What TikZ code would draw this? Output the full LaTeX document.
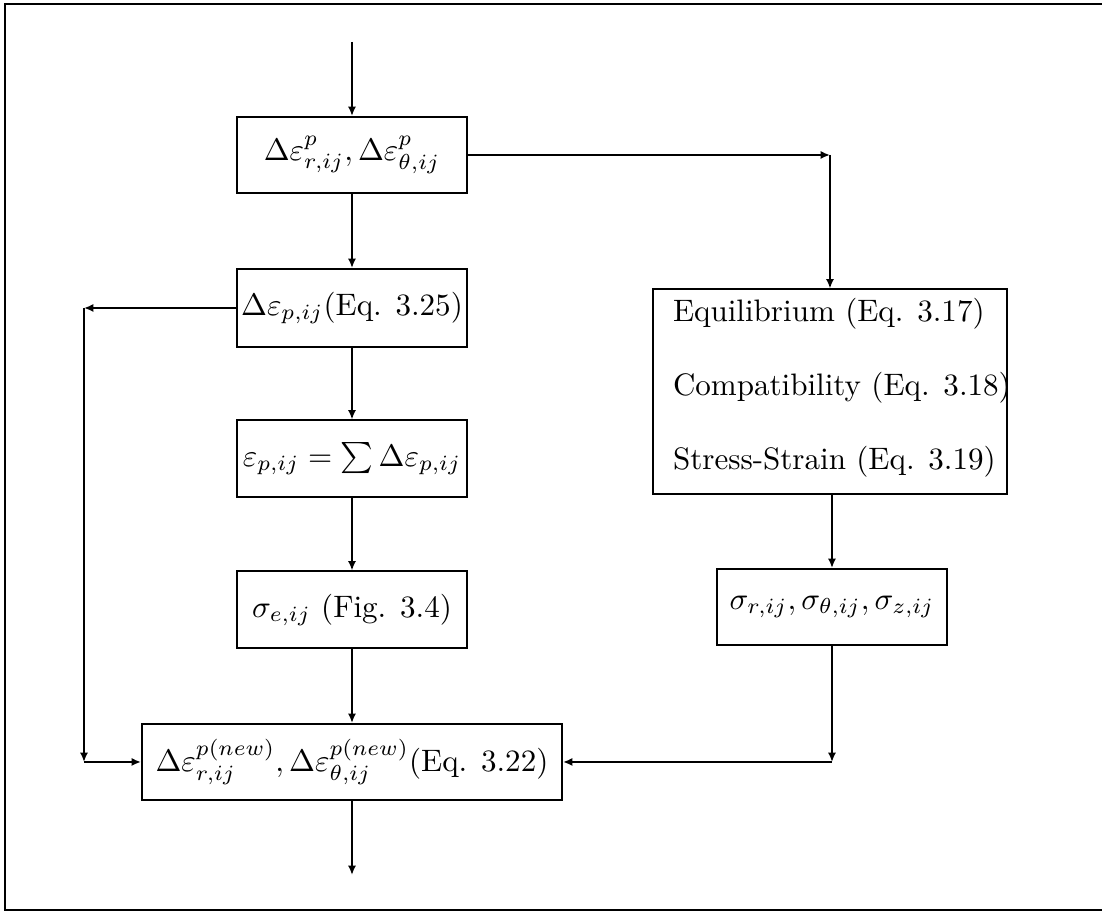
\documentclass[tikz,border=0pt]{standalone}
\usetikzlibrary{arrows.meta}
\begin{document}
\begin{tikzpicture}[x=0.322pt,y=-0.322pt,
  line width=0.65pt,
  box/.style={draw, inner sep=0pt, minimum width=#1*0.322pt},
  box/.default=230,
  arr/.style={-{Latex[length=3pt,width=2.6pt]}},
  lbl/.style={inner sep=0pt, anchor=west}]
\useasboundingbox (0,0) rectangle (1102,915);
\draw (1102,4) -- (5,4) -- (5,910) -- (1102,910);
% left column
\node[box, minimum height=76*0.322pt] (b1) at (352,155) {$\Delta\varepsilon^{p}_{r,ij}, \Delta\varepsilon^{p}_{\theta,ij}$};
\node[box, minimum height=78*0.322pt] (b2) at (352,308) {$\Delta\varepsilon_{p,ij}$(Eq. 3.25)};
\node[box, minimum height=77*0.322pt] (b3) at (352,459) {$\varepsilon_{p,ij}=\sum\Delta\varepsilon_{p,ij}$};
\node[box, minimum height=77*0.322pt] (b4) at (352,610) {$\sigma_{e,ij}$ (Fig. 3.4)};
\node[box=420, minimum height=76*0.322pt] (b5) at (352,762) {$\Delta\varepsilon^{p(new)}_{r,ij}, \Delta\varepsilon^{p(new)}_{\theta,ij}$(Eq. 3.22)};
% right column
\node[box=354, minimum height=205*0.322pt] (eq) at (830,392) {};
\node[lbl] (t1) at (672,314) {Equilibrium (Eq. 3.17)};
\node[lbl] (t2) at (672,388) {Compatibility (Eq. 3.18)};
\node[lbl] (t3) at (672,462) {Stress-Strain (Eq. 3.19)};
\node[box, minimum height=76*0.322pt] (sg) at (832,607) {$\sigma_{r,ij}, \sigma_{\theta,ij}, \sigma_{z,ij}$};
% helper coordinates
\coordinate (in) at (352,42);
\coordinate (out) at (352,875);
\coordinate (cr) at (830,155);
\coordinate (lt) at (84,308);
\coordinate (lb) at (84,762);
\coordinate (rb) at (832,762);
% connectors
\draw[arr] (in) -- (b1.north);
\draw[arr] (b1) -- (b2);
\draw[arr] (b2) -- (b3);
\draw[arr] (b3) -- (b4);
\draw[arr] (b4) -- (b5);
\draw[arr] (b5.south) -- (out);
\draw[arr] (b1.east) -- (cr);
\draw[arr] (cr) -- (cr |- eq.north);
\draw[arr] (sg.north |- eq.south) -- (sg.north);
\draw[arr] (b2.west) -- (lt);
\draw[arr] (lt) -- (lb);
\draw[arr] (lb) -- (b5.west);
\draw[arr] (sg.south) -- (rb);
\draw[arr] (rb) -- (b5.east);
\end{tikzpicture}
\end{document}
